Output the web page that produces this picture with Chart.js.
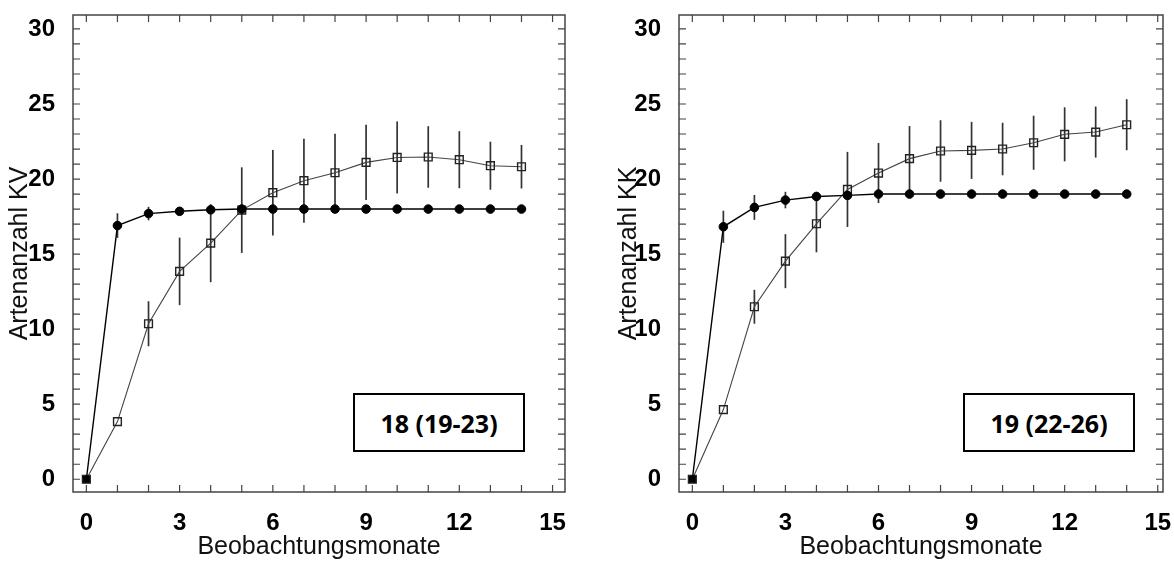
<!DOCTYPE html>
<html>
<head>
<meta charset="utf-8">
<script src="https://cdn.jsdelivr.net/npm/chart.js@4"></script>
<style>
  body { margin: 0; background: #fff; }
  #wrap { position: relative; width: 1174px; height: 562px; }
  .pane { position: absolute; top: 0; }
  .note {
    position: absolute; box-sizing: border-box; border: 2px solid #000; background: #fff;
    font: 700 25px "Open Sans"; color: #000;
    display: flex; align-items: center; justify-content: center;
  }
</style>
</head>
<body>
<div id="wrap">
  <canvas class="pane" id="kv" width="587" height="562" style="left:0"></canvas>
  <canvas class="pane" id="kk" width="587" height="562" style="left:587px"></canvas>
  <div class="note" style="left:353px;top:393px;width:172px;height:59px">18 (19-23)</div>
  <div class="note" style="left:963px;top:393px;width:172px;height:59px">19 (22-26)</div>
</div>
<script>
const months = [0, 1, 2, 3, 4, 5, 6, 7, 8, 9, 10, 11, 12, 13, 14];
const xTicks = [0, 3, 6, 9, 12, 15];
const yTicks = [0, 5, 10, 15, 20, 25, 30];

// KV
const kvCircle = [0, 16.9, 17.7, 17.85, 17.95, 18, 18, 18, 18, 18, 18, 18, 18, 18, 18];
const kvCircleErr = [0, 0.82, 0.45, 0.15, 0.1, 0, 0, 0, 0, 0, 0, 0, 0, 0, 0];
const kvSquare = [0, 3.84, 10.36, 13.85, 15.73, 17.93, 19.09, 19.89, 20.42, 21.11, 21.44, 21.47, 21.29, 20.89, 20.82];
const kvSquareErr = [0, 0, 1.5, 2.25, 2.6, 2.85, 2.85, 2.8, 2.6, 2.5, 2.4, 2.05, 1.9, 1.6, 1.45];

// KK
const kkCircle = [0, 16.82, 18.11, 18.6, 18.84, 18.91, 19, 19, 19, 19, 19, 19, 19, 19, 19];
const kkCircleErr = [0, 1.07, 0.83, 0.55, 0.3, 0.2, 0.3, 0, 0, 0, 0, 0, 0, 0, 0];
const kkSquare = [0, 4.64, 11.49, 14.53, 17.02, 19.31, 20.4, 21.36, 21.87, 21.91, 22.0, 22.42, 22.98, 23.13, 23.62];
const kkSquareErr = [0, 0, 1.13, 1.8, 1.9, 2.5, 2.0, 2.17, 2.05, 1.9, 1.75, 1.8, 1.8, 1.7, 1.7];

const toPoints = vals => months.map((m, i) => ({ x: m, y: vals[i] }));

const errorBars = {
  id: 'errorBars',
  beforeDatasetsDraw(chart) {
    const { ctx, scales: { x, y } } = chart;
    ctx.save();
    ctx.strokeStyle = '#333';
    ctx.lineWidth = 1.7;
    chart.data.datasets.forEach(ds => {
      ds.errors.forEach((e, i) => {
        if (!e) return;
        const px = x.getPixelForValue(ds.data[i].x);
        ctx.beginPath();
        ctx.moveTo(px, y.getPixelForValue(ds.data[i].y + e));
        ctx.lineTo(px, y.getPixelForValue(ds.data[i].y - e));
        ctx.stroke();
      });
    });
    ctx.restore();
  }
};

const frameTicks = {
  id: 'frameTicks',
  afterDraw(chart) {
    const { ctx, chartArea: a, scales: { x, y } } = chart;
    ctx.save();
    ctx.strokeStyle = '#444';
    ctx.lineWidth = 1.5;
    ctx.strokeRect(a.left, a.top, a.right - a.left, a.bottom - a.top);
    ctx.lineWidth = 1.2;
    ctx.beginPath();
    for (let v = 0; v <= 15; v++) {
      const px = x.getPixelForValue(v);
      ctx.moveTo(px, a.bottom); ctx.lineTo(px, a.bottom - 7);
      ctx.moveTo(px, a.top); ctx.lineTo(px, a.top + 7);
    }
    for (let v = 0; v <= 30; v++) {
      const py = y.getPixelForValue(v);
      ctx.moveTo(a.left, py); ctx.lineTo(a.left + 7, py);
      ctx.moveTo(a.right, py); ctx.lineTo(a.right - 7, py);
    }
    ctx.stroke();
    ctx.restore();
  }
};

const tickFont = { family: 'Liberation Sans', weight: 'bold', size: 24 };
const titleFont = { family: 'Liberation Sans', size: 25 };

function makeChart(id, circles, circleErr, squares, squareErr, yTitle, xMax, padLeft, padRight, yWidth) {
  new Chart(document.getElementById(id), {
    type: 'scatter',
    data: {
      datasets: [
        {
          data: toPoints(circles),
          errors: circleErr,
          showLine: true,
          borderColor: '#000',
          borderWidth: 1.4,
          pointStyle: 'circle',
          pointRadius: months.map(m => (m === 0 ? 0 : 4.3)),
          pointBackgroundColor: '#000',
          pointBorderColor: '#000',
          pointBorderWidth: 1
        },
        {
          data: toPoints(squares),
          errors: squareErr,
          showLine: true,
          borderColor: '#444',
          borderWidth: 1.1,
          pointStyle: 'rect',
          pointRadius: 5.5,
          pointBackgroundColor: months.map(m => (m === 0 ? '#000' : 'rgba(0,0,0,0)')),
          pointBorderColor: '#222',
          pointBorderWidth: 1.4
        }
      ]
    },
    options: {
      responsive: false,
      animation: false,
      layout: { padding: { left: padLeft, right: padRight, top: 15, bottom: 0 } },
      plugins: { legend: { display: false }, tooltip: { enabled: false } },
      scales: {
        x: {
          type: 'linear',
          min: -0.43,
          max: xMax,
          afterBuildTicks: s => { s.ticks = xTicks.map(v => ({ value: v })); },
          afterFit: s => { s.height = 70; s.paddingLeft = 0; s.paddingRight = 0; },
          grid: { display: false },
          border: { display: false },
          ticks: { font: tickFont, color: '#000', padding: 9, maxRotation: 0, autoSkip: false },
          title: { display: true, text: 'Beobachtungsmonate', font: titleFont, color: '#111', padding: { top: 0, bottom: 0 } }
        },
        y: {
          type: 'linear',
          min: -0.85,
          max: 30.93,
          afterBuildTicks: s => { s.ticks = yTicks.map(v => ({ value: v })); },
          afterFit: s => { s.width = yWidth; s.paddingTop = 0; s.paddingBottom = 0; },
          grid: { display: false },
          border: { display: false },
          ticks: { font: tickFont, color: '#000', padding: 10, autoSkip: false },
          title: { display: true, text: yTitle, font: titleFont, color: '#111', padding: { top: 5, bottom: 0 } }
        }
      }
    },
    plugins: [errorBars, frameTicks]
  });
}

makeChart('kv', kvCircle, kvCircleErr, kvSquare, kvSquareErr, 'Artenanzahl KV', 15.4, 0, 22, 73);
makeChart('kk', kkCircle, kkCircleErr, kkSquare, kkSquareErr, 'Artenanzahl KK', 15.17, 22, 11, 70);
</script>
</body>
</html>
